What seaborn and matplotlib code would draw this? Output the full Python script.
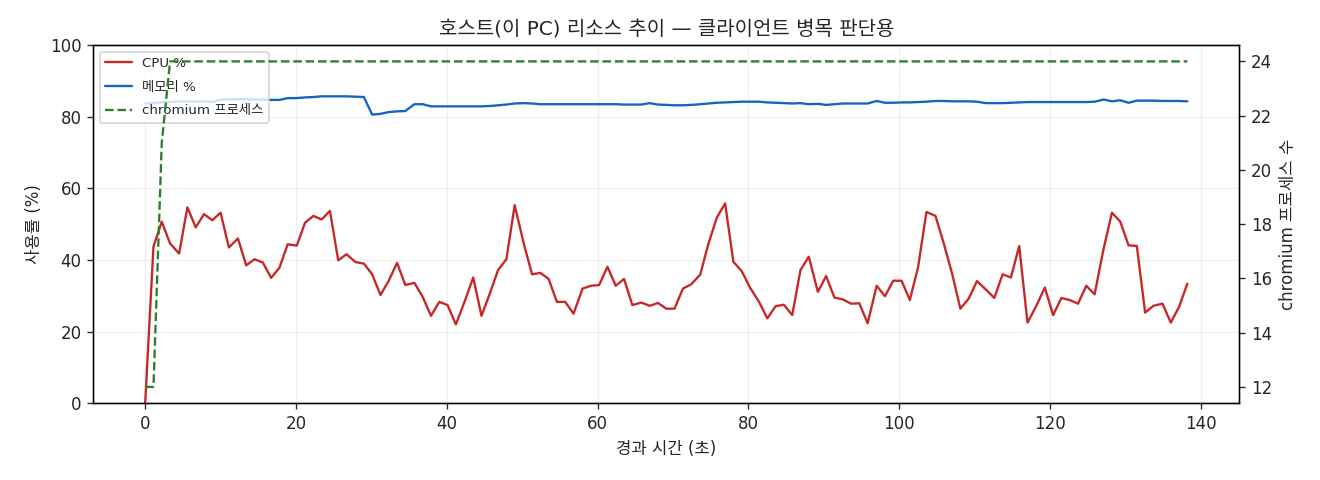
import numpy as np
import pandas as pd
import seaborn as sns
import matplotlib.pyplot as plt
from matplotlib.lines import Line2D

# elapsed time (s) of each sample
t = [0.0, 1.1, 2.2, 3.3, 4.5, 5.6, 6.7, 7.8, 8.9, 10.0,
     11.1, 12.3, 13.4, 14.5, 15.6, 16.7, 17.8, 18.9, 20.1, 21.2,
     22.3, 23.4, 24.5, 25.6, 26.7, 27.9, 29.0, 30.1, 31.2, 32.3,
     33.4, 34.5, 35.7, 36.8, 37.9, 39.0, 40.1, 41.2, 42.4, 43.5,
     44.6, 45.7, 46.8, 47.9, 49.0, 50.2, 51.3, 52.4, 53.5, 54.6,
     55.7, 56.8, 58.0, 59.1, 60.2, 61.3, 62.4, 63.5, 64.6, 65.8,
     66.9, 68.0, 69.1, 70.2, 71.3, 72.4, 73.6, 74.7, 75.8, 76.9,
     78.0, 79.1, 80.2, 81.4, 82.5, 83.6, 84.7, 85.8, 86.9, 88.0,
     89.2, 90.3, 91.4, 92.5, 93.6, 94.7, 95.8, 97.0, 98.1, 99.2,
     100.3, 101.4, 102.5, 103.6, 104.8, 105.9, 107.0, 108.1, 109.2, 110.3,
     111.5, 112.6, 113.7, 114.8, 115.9, 117.0, 118.1, 119.3, 120.4, 121.5,
     122.6, 123.7, 124.8, 125.9, 127.1, 128.2, 129.3, 130.4, 131.5, 132.6,
     133.7, 134.9, 136.0, 137.1, 138.2]

cpu = [0.0, 43.7, 50.7, 44.6, 41.8, 54.7, 49.1, 52.8, 51.1, 53.2,
       43.5, 46.0, 38.5, 40.2, 39.3, 35.0, 37.8, 44.4, 44.0, 50.4,
       52.3, 51.3, 53.7, 39.9, 41.6, 39.4, 39.0, 36.0, 30.2, 34.2,
       39.2, 33.0, 33.6, 29.7, 24.4, 28.3, 27.4, 22.0, 28.6, 35.1,
       24.4, 30.6, 37.2, 40.2, 55.3, 44.6, 36.0, 36.4, 34.7, 28.3,
       28.3, 25.0, 32.0, 32.8, 33.0, 38.1, 32.8, 34.7, 27.4, 28.1,
       27.2, 28.0, 26.4, 26.4, 32.0, 33.2, 35.9, 44.6, 51.8, 55.8,
       39.5, 36.9, 32.3, 28.3, 23.7, 27.1, 27.5, 24.6, 37.2, 40.9,
       31.1, 35.5, 29.5, 29.0, 27.8, 27.9, 22.3, 32.8, 29.9, 34.2,
       34.2, 28.8, 38.1, 53.4, 52.3, 44.6, 36.2, 26.4, 29.2, 34.1,
       31.7, 29.4, 36.0, 35.1, 43.9, 22.5, 26.9, 32.3, 24.6, 29.4,
       28.8, 27.8, 32.8, 30.4, 43.2, 53.2, 50.7, 44.1, 43.9, 25.3,
       27.2, 27.8, 22.5, 26.9, 33.4]

mem = [83.7, 83.8, 84.0, 84.1, 84.3, 84.3, 84.2, 84.3, 84.1, 84.8,
       84.9, 84.9, 84.9, 84.8, 84.8, 84.7, 84.7, 85.2, 85.2, 85.4,
       85.5, 85.7, 85.7, 85.7, 85.7, 85.6, 85.5, 80.6, 80.8, 81.3,
       81.5, 81.6, 83.5, 83.5, 82.9, 82.9, 82.9, 82.9, 82.9, 82.9,
       82.9, 83.0, 83.2, 83.4, 83.7, 83.8, 83.7, 83.5, 83.5, 83.5,
       83.5, 83.5, 83.5, 83.5, 83.5, 83.5, 83.5, 83.4, 83.4, 83.4,
       83.8, 83.4, 83.3, 83.2, 83.2, 83.3, 83.5, 83.7, 83.9, 84.0,
       84.1, 84.2, 84.2, 84.2, 84.0, 83.9, 83.8, 83.7, 83.8, 83.5,
       83.6, 83.3, 83.5, 83.7, 83.7, 83.7, 83.7, 84.4, 83.9, 83.9,
       84.0, 84.0, 84.1, 84.2, 84.4, 84.4, 84.3, 84.3, 84.3, 84.2,
       83.8, 83.8, 83.8, 83.9, 84.0, 84.1, 84.1, 84.1, 84.1, 84.1,
       84.1, 84.1, 84.1, 84.2, 84.8, 84.3, 84.6, 83.9, 84.5, 84.5,
       84.5, 84.4, 84.4, 84.4, 84.3]

procs = [12, 12, 21] + [24] * 122

df = pd.DataFrame({'t': t, 'cpu': cpu, 'mem': mem, 'procs': procs})

sns.set_style("ticks")
plt.rcParams['font.family'] = ['DejaVu Sans', 'Noto Sans CJK KR']
plt.rcParams['axes.edgecolor'] = 'black'
plt.rcParams['axes.unicode_minus'] = False

fig, ax = plt.subplots(figsize=(11, 4), dpi=120)
fig.subplots_adjust(left=0.0705, right=0.939, top=0.906, bottom=0.16)

red = '#c62828'
blue = '#1565c0'
green = '#2e7d32'

sns.lineplot(data=df, x='t', y='cpu', ax=ax, color=red, linewidth=1.4)
sns.lineplot(data=df, x='t', y='mem', ax=ax, color=blue, linewidth=1.4)
ax.set_ylim(0, 100)
ax.grid(True, alpha=0.3)
ax.set_xlabel('경과 시간 (초)', fontsize=10)
ax.set_ylabel('사용률 (%)', fontsize=10)
ax.tick_params(labelsize=10)
ax.set_title('호스트(이 PC) 리소스 추이 — 클라이언트 병목 판단용', fontsize=12)

ax2 = ax.twinx()
sns.lineplot(data=df, x='t', y='procs', ax=ax2, color=green, linewidth=1.4, linestyle='--')
ax2.set_ylabel('chromium 프로세스 수', fontsize=10)
ax2.tick_params(labelsize=10)

handles = [Line2D([], [], color=red, lw=1.4),
           Line2D([], [], color=blue, lw=1.4),
           Line2D([], [], color=green, lw=1.4, ls='--')]
ax.legend(handles, ['CPU %', '메모리 %', 'chromium 프로세스'], loc='upper left',
          fontsize=8, labelspacing=0.8)

fig.savefig('out.png', dpi=120)
